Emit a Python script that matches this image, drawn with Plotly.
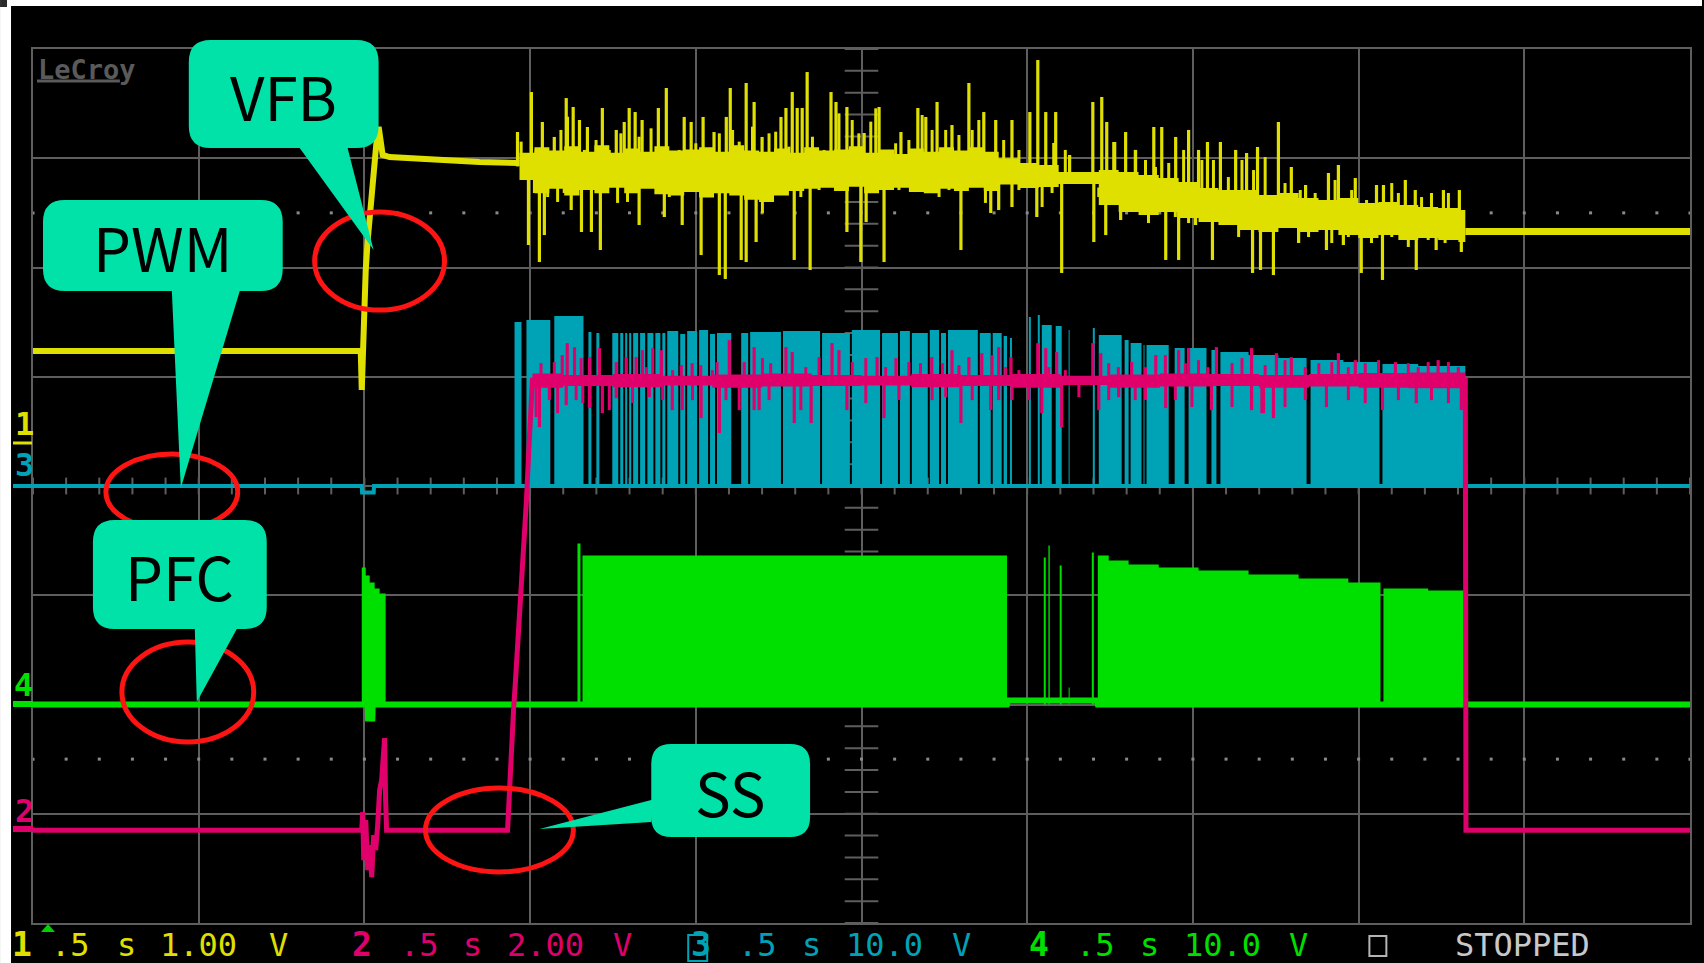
import numpy as np
import plotly.graph_objects as go

# ---------------- scope setup ----------------
SEC_PER_DIV = 0.5
N_XDIV, N_YDIV = 10, 8
T_END = SEC_PER_DIV * N_XDIV

VOLT_PER_DIV = {1: 1.0, 2: 2.0, 3: 10.0, 4: 10.0}
GROUND_DIV = {1: 0.0, 2: -3.15, 3: 0.0, 4: -2.0}
COLOR = {1: "#e0e000", 2: "#e0006c", 3: "#00a3b6", 4: "#00e000"}
GRID = "#5e5e5e"
BUBBLE = "#00e2a8"
RING = "#ff1414"

# ---------------- channel 1 : VFB (V) ----------------
vfb_t = [0.000, 0.989, 0.992, 0.998, 1.004, 1.010, 1.019, 1.028, 1.037, 1.043,
         1.049, 1.055, 1.076, 1.227, 1.347, 1.468]
vfb_v = [1.236, 1.236, 0.879, 1.703, 1.977, 2.252, 2.618, 2.847, 3.167, 3.286,
         3.167, 3.030, 3.011, 2.984, 2.966, 2.957]

vfb_core_t = [1.468, 1.513, 1.558, 1.603, 1.649, 1.694, 1.739, 1.784, 1.829, 1.875,
              1.920, 1.965, 2.010, 2.055, 2.101, 2.146, 2.191, 2.236, 2.281, 2.327,
              2.372, 2.417, 2.462, 2.508, 2.553, 2.598, 2.643, 2.688, 2.734, 2.779,
              2.824, 2.869, 2.914, 2.975, 3.035, 3.095, 3.156, 3.216, 3.276, 3.336,
              3.397, 3.457, 3.517, 3.577, 3.638, 3.698, 3.758, 3.819, 3.879, 3.939,
              3.999, 4.060, 4.120, 4.180, 4.240, 4.301, 4.322]
vfb_core_hi = [3.05, 3.10, 3.07, 3.11, 3.06, 3.12, 3.05, 3.09, 3.06, 3.11,
               3.07, 3.08, 3.10, 3.06, 3.12, 3.07, 3.06, 3.09, 3.05, 3.10,
               3.07, 3.08, 3.11, 3.05, 3.08, 3.04, 3.09, 3.06, 3.10, 3.07,
               3.10, 3.06, 3.00, 2.957, 2.938, 2.874, 2.874, 2.892, 2.874, 2.847,
               2.819, 2.783, 2.728, 2.709, 2.709, 2.664, 2.682, 2.636, 2.618, 2.636,
               2.590, 2.600, 2.572, 2.554, 2.545, 2.526, 2.416]
vfb_core_lo = [2.80, 2.68, 2.72, 2.66, 2.71, 2.68, 2.73, 2.68, 2.72, 2.67,
               2.66, 2.69, 2.64, 2.68, 2.66, 2.62, 2.60, 2.66, 2.70, 2.72,
               2.73, 2.70, 2.74, 2.68, 2.71, 2.73, 2.69, 2.68, 2.72, 2.70,
               2.73, 2.70, 2.76, 2.728, 2.737, 2.764, 2.764, 2.572, 2.508, 2.481,
               2.508, 2.453, 2.416, 2.389, 2.343, 2.325, 2.362, 2.325, 2.343, 2.297,
               2.270, 2.297, 2.252, 2.270, 2.252, 2.233, 2.252]

# large excursions
vfb_up_t = [1.462, 1.504, 1.537, 1.573, 1.609, 1.630, 1.649, 1.673, 1.718, 1.760,
            1.784, 1.799, 1.817, 1.838, 1.887, 1.911, 1.965, 1.986, 2.022, 2.055,
            2.092, 2.104, 2.152, 2.176, 2.200, 2.257, 2.272, 2.291, 2.306, 2.321,
            2.336, 2.408, 2.423, 2.456, 2.508, 2.553, 2.619, 2.670, 2.694, 2.728,
            2.773, 2.824, 2.869, 2.905, 2.954, 3.008, 3.032, 3.056, 3.086, 3.128,
            3.198, 3.225, 3.240, 3.264, 3.297, 3.327, 3.382, 3.406, 3.448, 3.487,
            3.517, 3.544, 3.583, 3.629, 3.662, 3.695, 3.758, 3.797, 3.840, 3.909,
            3.939, 3.990, 4.054, 4.075, 4.141, 4.171, 4.256, 4.304]
vfb_up_v = [3.240, 3.606, 3.332, 3.195, 3.551, 3.469, 3.350, 3.286, 3.460, 3.259,
            3.332, 3.460, 3.423, 3.350, 3.460, 3.643, 3.378, 3.332, 3.378, 3.240,
            3.378, 3.643, 3.689, 3.515, 3.195, 3.378, 3.460, 3.606, 3.460, 3.460,
            3.789, 3.606, 3.515, 3.469, 3.231, 3.469, 3.240, 3.460, 3.378, 3.515,
            3.304, 3.689, 3.423, 3.350, 3.350, 3.423, 3.899, 3.423, 3.423, 3.030,
            3.515, 3.561, 3.332, 3.149, 3.240, 3.076, 3.286, 3.286, 3.195, 3.259,
            3.076, 3.149, 3.149, 3.076, 3.048, 3.103, 3.332, 2.920, 2.755, 2.865,
            2.938, 2.819, 2.755, 2.755, 2.801, 2.709, 2.709, 2.709]
vfb_dn_t = [1.495, 1.528, 1.543, 1.624, 1.655, 1.685, 1.712, 1.829, 1.905, 1.959,
            2.016, 2.071, 2.089, 2.137, 2.152, 2.182, 2.297, 2.345, 2.456, 2.498,
            2.514, 2.568, 2.800, 2.890, 2.914, 2.954, 3.029, 3.104, 3.201, 3.237,
            3.282, 3.418, 3.457, 3.508, 3.559, 3.680, 3.704, 3.743, 3.819, 3.903,
            3.954, 4.008, 4.072, 4.174, 4.234, 4.310]
vfb_dn_v = [2.206, 2.050, 2.297, 2.526, 2.325, 2.325, 2.160, 2.389, 2.462, 2.389,
            2.114, 1.931, 1.895, 2.069, 2.050, 2.233, 2.069, 1.977, 2.325, 2.050,
            2.416, 2.050, 2.160, 2.499, 2.526, 2.554, 2.462, 1.950, 2.233, 2.297,
            2.435, 2.069, 2.069, 2.389, 2.069, 1.950, 1.977, 1.931, 2.224, 2.160,
            2.206, 1.950, 1.886, 1.977, 2.160, 2.142]

# smaller excursions
vfb_up2_t = [1.473, 1.518, 1.558, 1.593, 1.613, 1.664, 1.699, 1.739, 1.774, 1.829,
             1.865, 1.930, 1.950, 2.000, 2.030, 2.071, 2.111, 2.131, 2.171, 2.221,
             2.241, 2.281, 2.352, 2.387, 2.432, 2.472, 2.492, 2.528, 2.543, 2.583,
             2.603, 2.643, 2.683, 2.713, 2.754, 2.794, 2.834, 2.854, 2.889,
             2.929, 2.975, 3.080, 3.115, 3.150, 3.176, 3.261, 3.326, 3.357, 3.387,
             3.427, 3.472, 3.527, 3.562, 3.607, 3.648, 3.683, 3.718, 3.778, 3.824,
             3.869, 3.929, 3.979, 4.024, 4.100, 4.120, 4.190, 4.220, 4.271]
vfb_up2_v = [3.152, 3.076, 3.014, 3.259, 3.380, 3.076, 3.167, 3.076, 3.228, 3.197,
             3.274, 3.014, 3.076, 3.137, 3.076, 3.228, 3.259, 3.152, 3.289, 3.228,
             3.243, 3.106, 3.197, 3.076, 3.411, 3.350, 3.228, 3.335, 3.457, 3.076,
             3.137, 3.167, 3.396, 3.259, 3.259, 3.213, 3.259, 3.350, 3.045,
             3.167, 3.076, 3.140, 3.076, 2.847, 2.865, 3.149, 3.076, 2.984, 2.920,
             2.957, 3.076, 2.984, 2.984, 2.828, 2.984, 2.892, 3.011, 2.773, 2.709,
             2.682, 2.801, 2.709, 2.618, 2.773, 2.682, 2.645, 2.682, 2.682]
vfb_dn2_t = [1.478, 1.513, 1.553, 1.583, 1.603, 1.639, 1.669, 1.739, 1.764, 1.794,
             1.850, 1.875, 1.920, 1.985, 2.050, 2.111, 2.201, 2.231, 2.261, 2.317,
             2.372, 2.412, 2.442, 2.543, 2.613, 2.653, 2.734, 2.764, 2.834, 2.874,
             2.975, 3.045, 3.075, 3.156, 3.216, 3.296, 3.335, 3.366, 3.447, 3.487,
             3.527, 3.598, 3.638, 3.718, 3.788, 3.849, 3.879, 3.919, 3.969, 4.039,
             4.100, 4.150, 4.210, 4.261, 4.291]
vfb_dn2_v = [2.831, 2.682, 2.645, 2.600, 2.682, 2.728, 2.773, 2.783, 2.591, 2.600,
             2.773, 2.737, 2.645, 2.828, 2.773, 2.691, 2.499, 2.618, 2.709, 2.645,
             2.709, 2.773, 2.709, 2.773, 2.709, 2.709, 2.645, 2.709, 2.773, 2.591,
             2.709, 2.554, 2.682, 2.773, 2.645, 2.554, 2.526, 2.407, 2.462, 2.407,
             2.526, 2.462, 2.279, 2.343, 2.371, 2.279, 2.343, 2.224, 2.279, 2.224,
             2.279, 2.188, 2.252, 2.224, 2.279]

vfb_tail_t = [4.322, 5.000]
vfb_tail_v = [2.330, 2.330]

# ---------------- channel 2 : SS (V) ----------------
ss_t = [0.000, 0.992, 0.995, 0.998, 1.004, 1.010, 1.016, 1.022, 1.028, 1.034,
        1.040, 1.046, 1.052, 1.058, 1.061, 1.064, 1.067, 1.432, 1.435, 1.441,
        1.450, 1.456, 1.468, 1.480, 1.489, 1.498, 1.507]
ss_v = [0.000, 0.000, 0.330, -0.549, 0.183, -0.732, -0.275, -0.860, -0.092, -0.366,
        0.092, 0.732, 0.915, 1.648, 1.684, 0.549, 0.000, 0.000, 0.421, 1.227,
        2.197, 2.746, 3.844, 5.126, 6.041, 7.195, 8.238]
ss_tail_t = [4.322, 4.324, 5.000]
ss_tail_v = [8.238, 0.000, 0.000]

ss_core_t = [1.507, 1.600, 1.750, 1.900, 2.050, 2.200, 2.350, 2.500, 2.650, 2.800,
             2.950, 3.100, 3.250, 3.400, 3.550, 3.700, 3.850, 4.000, 4.150, 4.322]
ss_core_hi = [8.36, 8.33, 8.35, 8.32, 8.34, 8.36, 8.33, 8.32, 8.35, 8.33,
              8.35, 8.32, 8.34, 8.36, 8.35, 8.33, 8.35, 8.37, 8.38, 8.40]
ss_core_lo = [8.10, 8.13, 8.11, 8.14, 8.10, 8.12, 8.13, 8.14, 8.11, 8.13,
              8.10, 8.15, 8.10, 8.12, 8.13, 8.10, 8.12, 8.10, 8.09, 8.09]

ss_up_t = [1.597, 1.612, 1.634, 1.709, 1.760, 1.790, 1.820, 1.851, 1.896, 1.956,
           1.989, 2.064, 2.101, 2.146, 2.176, 2.272, 2.291, 2.411, 2.432, 2.547,
           2.604, 2.712, 2.773, 2.824, 2.863, 2.914, 2.951, 3.032, 3.056, 3.089,
           3.198, 3.222, 3.315, 3.388, 3.457, 3.487, 3.571, 3.677, 3.752, 3.797,
           3.939, 3.990, 4.111, 4.240, 4.301]
ss_up_v = [8.696, 8.915, 8.842, 8.824, 8.568, 8.659, 8.659, 8.476, 8.787, 8.513,
           8.549, 8.568, 8.970, 8.568, 8.842, 8.842, 8.751, 8.915, 8.787, 8.659,
           8.641, 8.659, 8.787, 8.659, 8.732, 8.842, 8.659, 8.915, 8.824, 8.751,
           8.915, 8.732, 8.568, 8.696, 8.787, 8.824, 8.842, 8.824, 8.732, 8.659,
           8.732, 8.604, 8.568, 8.604, 8.476]
ss_dn_t = [1.528, 1.558, 1.609, 1.679, 1.718, 1.760, 1.929, 1.959, 2.016, 2.071,
           2.176, 2.191, 2.297, 2.348, 2.456, 2.568, 2.800, 2.890, 2.914, 2.954,
           3.044, 3.104, 3.216, 3.276, 3.418, 3.556, 3.677, 3.713, 3.743, 3.903,
           4.072, 4.174, 4.310]
ss_dn_v = [7.378, 7.872, 7.780, 7.725, 7.634, 7.908, 7.689, 7.689, 7.542, 7.268,
           7.689, 7.689, 7.451, 7.451, 7.689, 7.542, 7.451, 7.689, 7.872, 7.872,
           7.634, 7.378, 7.689, 7.927, 7.725, 7.689, 7.689, 7.634, 7.542, 7.744,
           7.689, 7.817, 7.689]

ss_up2_t = [1.533, 1.573, 1.654, 1.679, 1.839, 1.870, 1.930, 2.015, 2.050, 2.201,
            2.226, 2.332, 2.372, 2.472, 2.513, 2.573, 2.643, 2.678, 2.744, 2.794,
            2.894, 2.935, 2.975, 3.065, 3.115, 3.246, 3.275, 3.357, 3.417, 3.477,
            3.517, 3.545, 3.618, 3.648, 3.718, 3.778, 3.839, 3.880, 3.919, 3.969,
            4.020, 4.060, 4.150, 4.180, 4.210, 4.271]
ss_up2_v = [8.549, 8.568, 8.641, 8.659, 8.787, 8.824, 8.421, 8.513, 8.421, 8.641,
            8.549, 8.476, 8.659, 8.568, 8.641, 8.476, 8.568, 8.549, 8.549, 8.513,
            8.696, 8.476, 8.421, 8.476, 8.421, 8.549, 8.476, 8.476, 8.696, 8.549,
            8.604, 8.476, 8.549, 8.641, 8.513, 8.604, 8.476, 8.549, 8.568, 8.476,
            8.549, 8.604, 8.549, 8.476, 8.568, 8.568]
ss_dn2_t = [1.518, 1.583, 1.639, 1.659, 1.739, 1.809, 1.860, 1.900, 1.990, 2.091,
            2.131, 2.221, 2.317, 2.513, 2.613, 2.713, 2.754, 2.834, 3.005, 3.156,
            3.246, 3.326, 3.357, 3.447, 3.497, 3.618, 3.708, 3.778, 3.839, 3.969,
            4.020, 4.120, 4.220, 4.271]
ss_dn2_v = [7.561, 7.634, 7.872, 7.817, 7.689, 7.817, 7.927, 7.872, 7.872, 7.872,
            7.689, 7.872, 7.689, 7.817, 7.872, 7.872, 7.927, 7.872, 7.872, 7.927,
            7.872, 7.872, 7.872, 7.872, 7.744, 7.744, 7.634, 7.744, 7.872, 7.872,
            7.817, 7.872, 7.872, 7.817]

# ---------------- channel 3 : PWM gate (V) ----------------
pwm_t0 = [1.453, 1.489, 1.573, 1.676, 1.700, 1.748, 1.772, 1.787, 1.799, 1.811,
          1.832, 1.854, 1.878, 1.899, 1.914, 1.953, 1.974, 2.010, 2.043, 2.064,
          2.137, 2.164, 2.263, 2.381, 2.471, 2.562, 2.616, 2.652, 2.706, 2.740,
          2.761, 2.857, 2.896, 2.929, 2.948, 3.005, 3.032, 3.044, 3.086, 3.125,
          3.198, 3.216, 3.294, 3.312, 3.351, 3.360, 3.445, 3.487, 3.556, 3.583,
          3.668, 3.758, 3.855, 3.954, 4.072, 4.180]
pwm_t1 = [1.474, 1.561, 1.661, 1.685, 1.709, 1.766, 1.781, 1.793, 1.805, 1.826,
          1.847, 1.872, 1.893, 1.908, 1.947, 1.968, 2.004, 2.037, 2.058, 2.107,
          2.158, 2.257, 2.375, 2.465, 2.556, 2.610, 2.646, 2.700, 2.734, 2.755,
          2.851, 2.890, 2.923, 2.939, 2.954, 3.011, 3.038, 3.074, 3.104, 3.128,
          3.204, 3.285, 3.306, 3.345, 3.354, 3.427, 3.475, 3.541, 3.571, 3.668,
          3.758, 3.843, 3.954, 4.063, 4.180, 4.322]
pwm_top = [15.01, 15.19, 15.56, 14.10, 14.00, 14.00, 14.00, 14.00, 14.00, 14.00,
           14.00, 14.00, 14.00, 14.00, 14.19, 13.91, 14.19, 14.28, 13.91, 14.00,
           14.00, 14.10, 14.19, 14.00, 14.28, 14.00, 14.19, 14.00, 14.28, 14.00,
           14.28, 14.00, 14.00, 13.73, 13.55, 15.47, 15.65, 14.74, 14.65, 14.28,
           14.46, 13.82, 13.36, 13.09, 12.91, 12.91, 12.63, 12.63, 12.45, 12.27,
           11.99, 11.72, 11.53, 11.35, 11.17, 10.98]
pwm_base_t = [0.000, 0.992, 0.993, 1.028, 1.029, 5.000]
pwm_base_v = [0.0, 0.0, -0.6, -0.6, 0.0, 0.0]

# ---------------- channel 4 : PFC gate (V) ----------------
pfc_t0 = [0.992, 1.004, 1.016, 1.031, 1.046, 1.643, 1.658, 3.050, 3.064, 3.098,
          3.125, 3.195, 3.213, 3.246, 3.306, 3.397, 3.517, 3.668, 3.819, 3.969,
          4.075, 4.210]
pfc_t1 = [1.004, 1.016, 1.031, 1.046, 1.064, 1.652, 2.939, 3.056, 3.068, 3.104,
          3.128, 3.201, 3.246, 3.306, 3.397, 3.517, 3.668, 3.819, 3.969, 4.066,
          4.210, 4.319]
pfc_top = [12.54, 11.81, 11.17, 10.62, 10.16, 14.74, 13.64, 13.46, 14.55, 12.72,
           1.56, 13.91, 13.64, 13.18, 12.81, 12.54, 12.27, 11.90, 11.53, 11.17,
           10.62, 10.43]
pfc_base_t = [0.000, 1.010, 1.011, 1.024, 1.025, 2.939, 2.942, 3.210, 3.213, 5.000]
pfc_base_v = [0.0, 0.0, -1.28, -1.28, 0.0, 0.0, 0.37, 0.37, 0.0, 0.0]

# ---------------- status line ----------------
status_words = [
    ("1", 1, True), (".5", 1, False), ("s", 1, False), ("1.00", 1, False), ("V", 1, False),
    ("2", 2, True), (".5", 2, False), ("s", 2, False), ("2.00", 2, False), ("V", 2, False),
    ("3", 3, True), (".5", 3, False), ("s", 3, False), ("10.0", 3, False), ("V", 3, False),
    ("4", 4, True), (".5", 4, False), ("s", 4, False), ("10.0", 4, False), ("V", 4, False),
    ("STOPPED", 0, False),
]


# ---------------- helpers ----------------
def to_div(ch, values):
    return [None if v is None else GROUND_DIV[ch] + v / VOLT_PER_DIV[ch] for v in values]


def pulse_outline(t0s, t1s, tops):
    xs, ys = [0.0], [0.0]
    for a, b, h in zip(t0s, t1s, tops):
        xs += [a, a, b, b]
        ys += [0.0, h, h, 0.0]
    xs.append(T_END)
    ys.append(0.0)
    return xs, ys


def spike_segments(ts, vs, core_t, core_hi, core_lo):
    xs, ys = [], []
    for t, v in zip(ts, vs):
        i = max(0, int(np.searchsorted(core_t, t, side="right")) - 1)
        base = 0.5 * (core_hi[i] + core_lo[i])
        xs += [t, t, None]
        ys += [base, v, None]
    return xs, ys


fig = go.Figure()


def line(x, y, color, width, shape="linear"):
    fig.add_trace(go.Scatter(x=x, y=y, mode="lines", line=dict(color=color, width=width, shape=shape),
                             hoverinfo="skip", showlegend=False))


def band(ch, t, hi, lo):
    fig.add_trace(go.Scatter(x=t, y=to_div(ch, hi), mode="lines",
                             line=dict(width=0, shape="hv", color=COLOR[ch]),
                             hoverinfo="skip", showlegend=False))
    fig.add_trace(go.Scatter(x=t, y=to_div(ch, lo), mode="lines", fill="tonexty",
                             fillcolor=COLOR[ch], line=dict(width=0, shape="hv", color=COLOR[ch]),
                             hoverinfo="skip", showlegend=False))


def pulses(ch, t0s, t1s, tops):
    xs, ys = pulse_outline(t0s, t1s, tops)
    fig.add_trace(go.Scatter(x=xs, y=to_div(ch, ys), mode="lines", fill="toself",
                             fillcolor=COLOR[ch], line=dict(width=0, color=COLOR[ch]),
                             hoverinfo="skip", showlegend=False))


def spikes(ch, ts, vs, core_t, core_hi, core_lo, width):
    sx, sy = spike_segments(ts, vs, core_t, core_hi, core_lo)
    line(sx, to_div(ch, sy), COLOR[ch], width)


# ---------------- graticule decorations ----------------
minor_y = np.arange(-N_YDIV / 2, N_YDIV / 2 + 1e-9, 0.2)
minor_t = np.arange(0.0, T_END + 1e-9, SEC_PER_DIV / 5)
fig.add_trace(go.Scatter(x=[T_END / 2] * len(minor_y), y=minor_y, mode="markers",
                         marker=dict(symbol="line-ew", size=24, line=dict(width=2, color=GRID)),
                         hoverinfo="skip", showlegend=False))
fig.add_trace(go.Scatter(x=minor_t, y=[0] * len(minor_t), mode="markers",
                         marker=dict(symbol="line-ns", size=12, line=dict(width=2, color=GRID)),
                         hoverinfo="skip", showlegend=False))
for row in (2.5, -2.5):
    fig.add_trace(go.Scatter(x=minor_t, y=[row] * len(minor_t), mode="markers",
                             marker=dict(symbol="square", size=3, color="#8a8a8a"),
                             hoverinfo="skip", showlegend=False))

# ---------------- traces ----------------
# PWM gate drive
pulses(3, pwm_t0, pwm_t1, pwm_top)
line(pwm_base_t, to_div(3, pwm_base_v), COLOR[3], 4)

# PFC gate drive
pulses(4, pfc_t0, pfc_t1, pfc_top)
line(pfc_base_t, to_div(4, pfc_base_v), COLOR[4], 6)

# VFB
line(vfb_t, to_div(1, vfb_v), COLOR[1], 6)
band(1, vfb_core_t, vfb_core_hi, vfb_core_lo)
spikes(1, vfb_up2_t + vfb_dn2_t, vfb_up2_v + vfb_dn2_v, vfb_core_t, vfb_core_hi, vfb_core_lo, 3)
spikes(1, vfb_up_t + vfb_dn_t, vfb_up_v + vfb_dn_v, vfb_core_t, vfb_core_hi, vfb_core_lo, 3.2)
line(vfb_tail_t, to_div(1, vfb_tail_v), COLOR[1], 7)

# Soft start
line(ss_t + ss_tail_t, to_div(2, ss_v + ss_tail_v), COLOR[2], 5)
band(2, ss_core_t, ss_core_hi, ss_core_lo)
spikes(2, ss_up2_t + ss_dn2_t, ss_up2_v + ss_dn2_v, ss_core_t, ss_core_hi, ss_core_lo, 3)
spikes(2, ss_up_t + ss_dn_t, ss_up_v + ss_dn_v, ss_core_t, ss_core_hi, ss_core_lo, 3.2)

# ---------------- page geometry ----------------
W, H = 1704, 963
ML, MR, MT, MB = 33, 12, 49, 40


def px(x):
    return (x - ML) / (W - ML - MR)


def py(y):
    return (H - MB - y) / (H - MT - MB)


def P(x, y):
    return f"{px(x):.5f},{py(y):.5f}"


def bubble_path(x0, y0, x1, y1, r, side, a, b, tip):
    s = f"M {P(x0 + r, y0)} L {P(x1 - r, y0)} Q {P(x1, y0)} {P(x1, y0 + r)} "
    s += f"L {P(x1, y1 - r)} Q {P(x1, y1)} {P(x1 - r, y1)} "
    if side == "bottom":
        s += f"L {P(b, y1)} L {P(*tip)} L {P(a, y1)} "
    s += f"L {P(x0 + r, y1)} Q {P(x0, y1)} {P(x0, y1 - r)} "
    if side == "left":
        s += f"L {P(x0, b)} L {P(*tip)} L {P(x0, a)} "
    s += f"L {P(x0, y0 + r)} Q {P(x0, y0)} {P(x0 + r, y0)} Z"
    return s


shapes = []
# page frame: white strip on top and left
shapes.append(dict(type="rect", xref="paper", yref="paper", x0=px(0), x1=px(W), y0=py(0), y1=py(6),
                   fillcolor="white", line=dict(width=0), layer="above"))
shapes.append(dict(type="rect", xref="paper", yref="paper", x0=px(0), x1=px(11), y0=py(0), y1=py(H),
                   fillcolor="white", line=dict(width=0), layer="above"))
shapes.append(dict(type="rect", xref="paper", yref="paper", x0=px(0), x1=px(7), y0=py(0), y1=py(7),
                   fillcolor="#2b2b2b", line=dict(width=0), layer="above"))

# ground-level stubs and channel markers on the left
for ch, yy, w in ((3, 486, 4), (4, 704, 6), (2, 829, 6)):
    shapes.append(dict(type="line", xref="paper", yref="paper", x0=px(13), x1=px(33), y0=py(yy), y1=py(yy),
                       line=dict(color=COLOR[ch], width=w)))
shapes.append(dict(type="line", xref="paper", yref="paper", x0=px(13), x1=px(32), y0=py(443), y1=py(443),
                   line=dict(color=COLOR[1], width=3)))

# LeCroy underline
shapes.append(dict(type="line", xref="paper", yref="paper", x0=px(37), x1=px(120), y0=py(81), y1=py(81),
                   line=dict(color="#5a5a5a", width=3)))

# trigger marker
shapes.append(dict(type="path", xref="paper", yref="paper",
                   path=f"M {P(41, 932)} L {P(55, 932)} L {P(48, 924)} Z",
                   fillcolor="#00d000", line=dict(width=0)))

# status box glyphs
shapes.append(dict(type="rect", xref="paper", yref="paper", x0=px(689), x1=px(708), y0=py(961), y1=py(935),
                   line=dict(color=COLOR[3], width=2)))
shapes.append(dict(type="rect", xref="paper", yref="paper", x0=px(1371), x1=px(1388), y0=py(956), y1=py(936),
                   line=dict(color="#b4b4b4", width=2)))

# red rings
for cx, cy, rx, ry in ((380, 261, 65, 49), (172, 492, 66, 38), (188, 692, 66, 50), (500, 830, 74, 42)):
    shapes.append(dict(type="circle", xref="paper", yref="paper",
                       x0=px(cx - rx), x1=px(cx + rx), y0=py(cy + ry), y1=py(cy - ry),
                       line=dict(color=RING, width=5), fillcolor="rgba(0,0,0,0)"))

# callout bubbles
bubbles = [
    ("VFB", (189, 40, 379, 148, 22, "bottom", 300, 348, (374, 250))),
    ("PWM", (43, 200, 283, 291, 22, "bottom", 172, 240, (181, 488))),
    ("PFC", (93, 520, 267, 629, 22, "bottom", 195, 237, (197, 702))),
    ("SS", (652, 744, 811, 837, 20, "left", 800, 822, (540, 829))),
]
annotations = []
for label, (x0, y0, x1, y1, r, side, a, b, tip) in bubbles:
    shapes.append(dict(type="path", xref="paper", yref="paper",
                       path=bubble_path(x0, y0, x1, y1, r, side, a, b, tip),
                       fillcolor=BUBBLE, line=dict(width=0)))
    annotations.append(dict(xref="paper", yref="paper", x=px((x0 + x1) / 2), y=py((y0 + y1) / 2),
                            text=label, showarrow=False, xanchor="center", yanchor="middle",
                            font=dict(family="Noto Sans CJK JP", size=60, color="black")))

MONO = "DejaVu Sans Mono"


def txt(x, y, s, color, size, bold=False, anchor="middle"):
    annotations.append(dict(xref="paper", yref="paper", x=px(x), y=py(y), text=f"<b>{s}</b>" if bold else s,
                            showarrow=False, xanchor="left", yanchor=anchor,
                            font=dict(family=MONO, size=size, color=color)))


# status line: each word placed in its own character cell
status_x = [10, 49, 115, 158, 267,
            350, 398, 462, 506, 612,
            690, 737, 801, 845, 951,
            1028, 1075, 1139, 1183, 1289,
            1455]
for (word, ch, bold), x in zip(status_words, status_x):
    color = COLOR[ch] if ch else "#c8c8c8"
    txt(x, 966, word, color, 32 if not bold else 33, bold=bold, anchor="bottom")

# channel markers
txt(13, 424, "1", COLOR[1], 32, bold=True)
txt(13, 465, "3", COLOR[3], 32, bold=True)
txt(12, 685, "4", COLOR[4], 32, bold=True)
txt(13, 811, "2", COLOR[2], 32, bold=True)

# logo
txt(36, 70, "LeCroy", "#5a5a5a", 27, bold=True)

axis_common = dict(showgrid=True, gridcolor=GRID, gridwidth=2, zeroline=False, showticklabels=False,
                   ticks="", showline=True, linecolor=GRID, linewidth=2, mirror=True, fixedrange=True)

fig.update_layout(
    width=W, height=H, autosize=False,
    margin=dict(l=ML, r=MR, t=MT, b=MB, pad=0),
    paper_bgcolor="black", plot_bgcolor="black",
    xaxis=dict(range=[0, T_END], dtick=SEC_PER_DIV, **axis_common),
    yaxis=dict(range=[-N_YDIV / 2, N_YDIV / 2], dtick=1, **axis_common),
    shapes=shapes, annotations=annotations, showlegend=False, hovermode=False,
)

fig.write_html("out.html")
